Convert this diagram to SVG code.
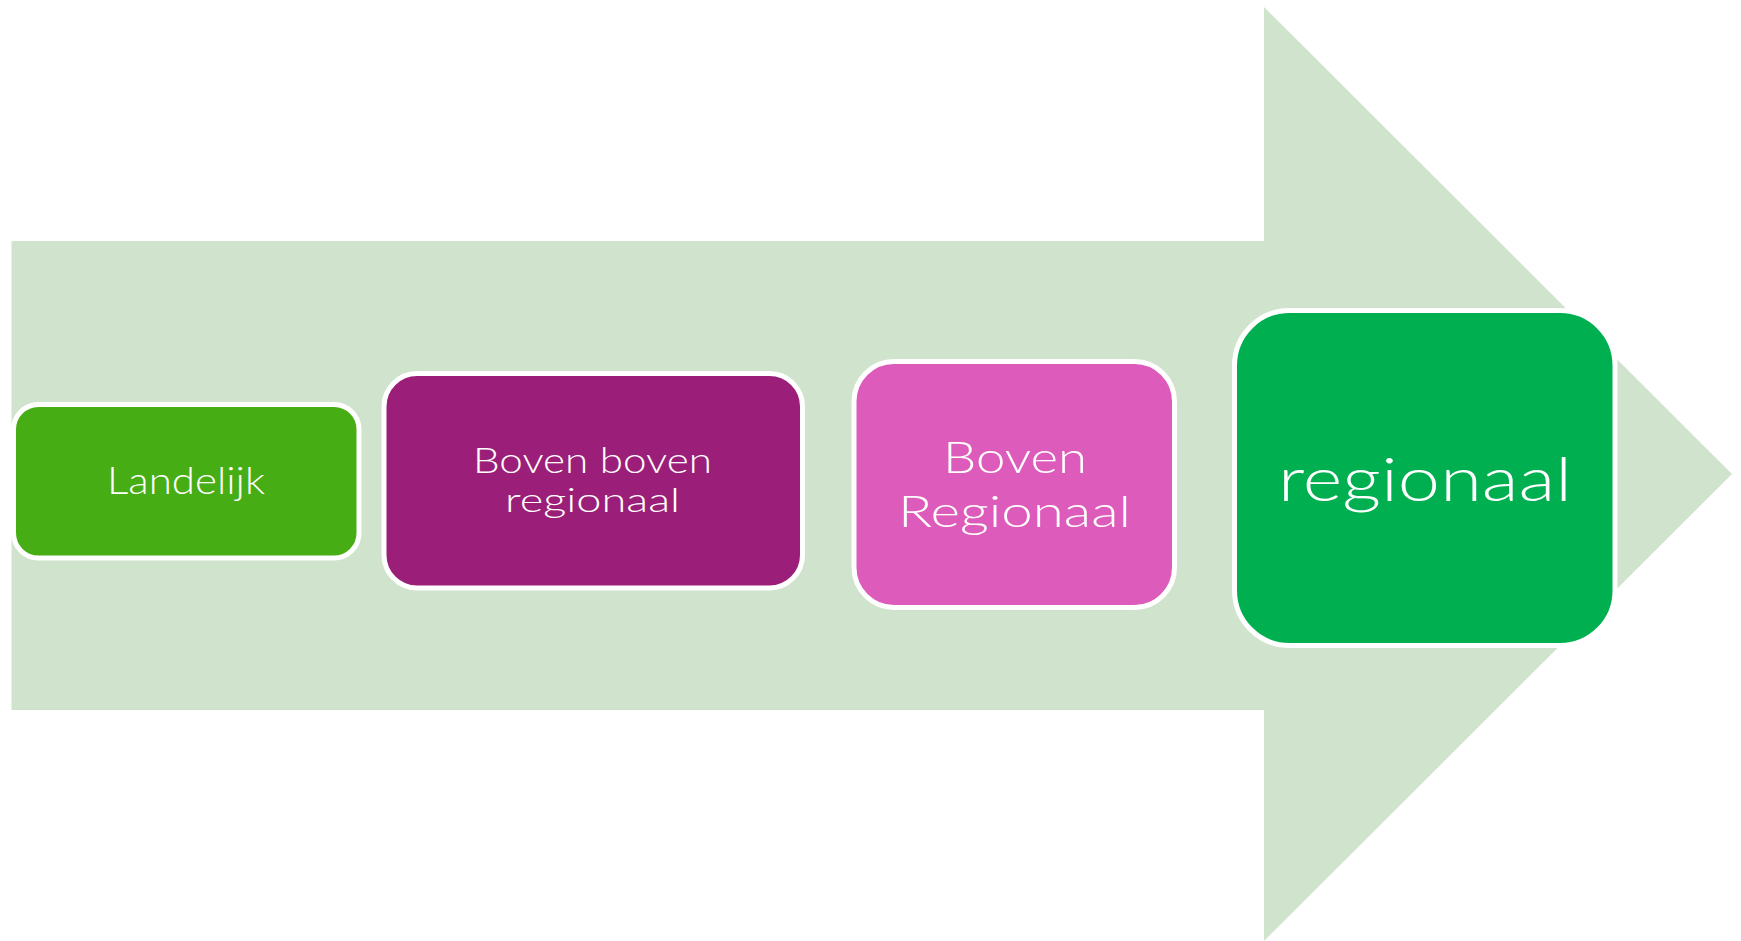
<svg xmlns="http://www.w3.org/2000/svg" width="1741" height="941" viewBox="0 0 1741 941">
<style>
.box{stroke:#FFFFFF;stroke-width:5}
.lbl{font-family:Lato,"Open Sans","Liberation Sans",sans-serif;font-weight:300;fill:#FFFFFF;text-anchor:middle}
</style>
<rect x="0" y="0" width="1741" height="941" fill="#FFFFFF"/>
<g id="arrow">
<polygon points="11.5,241 1264,241 1264,7 1732,474 1264,941 1264,710 11.5,710" fill="#D0E3CD"/>
</g>
<g id="connectors"></g>
<g id="node-landelijk">
<rect class="box" x="13.5" y="404.5" width="345.5" height="153.5" rx="25" fill="#47AD14"/>
<text class="lbl" x="186" y="494" font-size="37" textLength="158" lengthAdjust="spacingAndGlyphs">Landelijk</text>
</g>
<g id="node-boven-boven-regionaal">
<rect class="box" x="384" y="373.5" width="418.5" height="214.5" rx="33" fill="#9B1F79"/>
<text class="lbl" x="592.5" y="473" font-size="35" textLength="239" lengthAdjust="spacingAndGlyphs">Boven boven</text>
<text class="lbl" x="592.5" y="512" font-size="34" textLength="175" lengthAdjust="spacingAndGlyphs">regionaal</text>
</g>
<g id="node-boven-regionaal">
<rect class="box" x="854" y="361.5" width="320.5" height="246" rx="40" fill="#DD5CBB"/>
<text class="lbl" x="1015" y="473" font-size="44" textLength="144" lengthAdjust="spacingAndGlyphs">Boven</text>
<text class="lbl" x="1014.5" y="527" font-size="44" textLength="233" lengthAdjust="spacingAndGlyphs">Regionaal</text>
</g>
<g id="node-regionaal">
<rect class="box" x="1234.5" y="310.5" width="380.5" height="335" rx="55" fill="#00AF50"/>
<text class="lbl" x="1425" y="501" font-size="62" textLength="294" lengthAdjust="spacingAndGlyphs">regionaal</text>
</g>
</svg>
